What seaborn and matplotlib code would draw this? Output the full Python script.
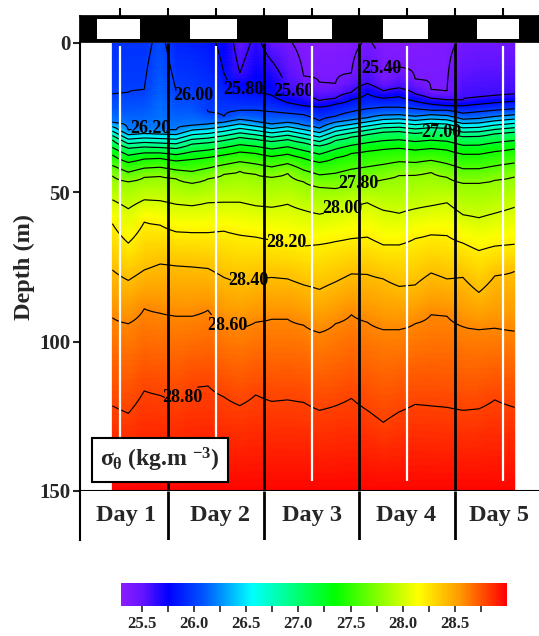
import numpy as np
import matplotlib
matplotlib.use("Agg")
import matplotlib.pyplot as plt
import seaborn as sns
from matplotlib.colors import LinearSegmentedColormap, Normalize
from matplotlib.cm import ScalarMappable
from matplotlib.patches import Rectangle

nan = np.nan

# time of each cast (hours from start of day 1) and sigma-theta at the surface
hours = [10, 14, 18, 22, 26, 30, 34, 38, 42, 46, 50, 54, 58, 62, 66, 70, 74,
         78, 82, 86, 90, 94, 98, 102, 106, 111]
surface_sigma = [25.95, 25.95, 25.95, 26.05, 25.9, 25.88, 25.85, 25.75, 25.5, 25.65,
                 25.5, 25.42, 25.35, 25.33, 25.33, 25.36, 25.42, 25.35, 25.33, 25.35,
                 25.36, 25.37, 25.42, 25.45, 25.45, 25.45]
bottom_sigma = 28.98

# depth (m) of each isopycnal at each cast, read off the section (nan = not present)
d254 = [nan, nan, nan, nan, nan, nan, nan, nan, nan, nan, nan, nan, 11, 13.3, 13.5, 10,
        nan, 12, 8, 12, 15.7, 16, nan, nan, nan, nan]
d256 = [nan, nan, nan, nan, nan, nan, nan, nan, 10, nan, 6, 16, 17.5, 19.4, 18.5, 16.5,
        13.5, 16, 15, 17, 18.5, 19, 19, 18, 17.5, 17]
d258 = [nan, nan, nan, nan, nan, nan, nan, 10, 15.5, 16.5, 17.5, 20, 21, 21.5, 20.5, 19,
        17, 18.5, 18, 19.5, 20.5, 21, 21, 20.5, 20, 19.5]
d260 = [17, 16.5, 15.5, nan, 16, 17.5, 23, 24.5, 22.5, 22.5, 23, 23.5, 24, 26, 24.5, 23,
        22, 21.5, 21.5, 22, 22.5, 22.5, 23.5, 23, 22.5, 22]
d262 = [26.5, 29.2, 28.8, 29.0, 29.1, 27.6, 27.2, 26.5, 25.6, 26.4, 27.2, 26.6, 27.5, 28.5,
        26.5, 25.8, 25.0, 24.2, 24.0, 24.5, 24.0, 24.3, 25.5, 25.3, 24.6, 24.0]
d270 = [32.5, 35.2, 34.8, 35.0, 35.3, 33.8, 33.4, 32.6, 31.6, 32.2, 33.0, 32.3, 33.4, 34.5,
        32.6, 31.5, 30.6, 29.8, 29.6, 30.2, 29.8, 30.0, 31.3, 31.2, 30.4, 29.8]
d274 = [37.5, 40.0, 38.8, 38.6, 39.5, 39.0, 38.3, 37.5, 36.5, 37.0, 38.0, 37.2, 38.6, 40.0,
        38.5, 37.0, 36.2, 35.6, 35.2, 35.8, 35.3, 35.8, 37.2, 37.2, 36.3, 35.5]
d278 = [44.5, 46.5, 45.0, 44.6, 45.5, 47.0, 45.5, 44.0, 43.0, 44.0, 45.0, 43.6, 46.5, 48.3,
        48.7, 47.5, 46.7, 45.7, 44.3, 44.2, 43.3, 45.0, 47.0, 47.0, 46.0, 44.8]
d280 = [52.5, 55.5, 52.5, 52.8, 54.0, 54.5, 53.5, 53.3, 53.3, 54.5, 55.0, 54.0, 56.0, 57.3,
        56.0, 54.5, 53.5, 56.0, 57.0, 55.5, 54.5, 53.5, 57.5, 58.5, 57.0, 55.0]
d282 = [60.5, 67.0, 60.0, 61.0, 63.2, 63.5, 63.5, 63.0, 64.3, 65.0, 66.0, 67.0, 68.0, 67.5,
        66.5, 65.5, 65.0, 67.6, 67.6, 65.5, 64.2, 64.5, 67.0, 69.5, 68.0, 67.4]
d284 = [76.0, 79.5, 76.0, 74.0, 74.6, 75.0, 75.5, 78.5, 80.5, 79.0, 78.5, 79.0, 81.0, 82.5,
        80.0, 77.3, 77.5, 79.0, 81.5, 81.0, 77.0, 79.0, 78.5, 83.5, 78.0, 76.5]
d286 = [92.0, 94.0, 89.0, 90.5, 91.5, 91.5, 89.5, 94.0, 95.5, 93.5, 92.5, 92.5, 94.5, 97.0,
        94.0, 91.0, 93.5, 96.0, 96.0, 94.0, 91.0, 91.5, 95.0, 96.0, 95.5, 96.5]
d288 = [121.5, 124.0, 116.5, 118.0, 120.0, 115.4, 114.8, 118.5, 121.4, 117.8, 120.0, 119.5,
        120.3, 123.0, 121.5, 119.0, 123.0, 127.0, 123.5, 121.0, 121.5, 122.0, 123.0, 122.5,
        119.5, 122.0]

iso_levels = [25.4, 25.6, 25.8, 26.0, 26.2, 27.0, 27.4, 27.8, 28.0, 28.2, 28.4, 28.6, 28.8]
iso_depths = [d254, d256, d258, d260, d262, d270, d274, d278, d280, d282, d284, d286, d288]

contour_levels = np.round(np.arange(25.4, 28.81, 0.2), 2)
# where the contour labels sit (hours, depth)
label_spots = [(76.2, 9), (55.4, 16.8), (42.8, 15.7), (29.5, 21.8), (19.5, 28.1),
               (92.5, 30.1), (71.7, 47.2), (67.7, 55.9), (53.8, 66), (44, 78),
               (38.5, 96.6), (28.5, 121)]

noon = [12, 36, 60, 84, 108]
midnight = [24, 48, 72, 96]
daylight = [(6.2, 16.9), (29.5, 41.4), (54.0, 65.2), (77.9, 89.3), (101.5, 112.1)]
day_names = ["Day 1", "Day 2", "Day 3", "Day 4", "Day 5"]
day_label_at = [13.5, 37, 60, 83.7, 107]
cbar_ticks = [25.5, 26.0, 26.5, 27.0, 27.5, 28.0, 28.5]
cbar_minor = [25.75, 26.25, 26.75, 27.25, 27.75, 28.25, 28.75]

# build the section from the isopycnal depths
depth = np.linspace(0, 150, 301)
field = np.empty((len(depth), len(hours)))
for j in range(len(hours)):
    zs, vs = [0.0], [surface_sigma[j]]
    for lev, arr in zip(iso_levels, iso_depths):
        if not np.isnan(arr[j]):
            zs.append(arr[j])
            vs.append(lev)
    zs.append(150.0)
    vs.append(bottom_sigma)
    field[:, j] = np.interp(depth, zs, vs)

sns.set_theme(style="white")
plt.rcParams["font.family"] = ["Liberation Serif", "DejaVu Serif"]
plt.rcParams["font.weight"] = "bold"
plt.rcParams["mathtext.fontset"] = "custom"
plt.rcParams["mathtext.rm"] = "Liberation Serif:bold"
plt.rcParams["mathtext.it"] = "Liberation Serif:bold"
plt.rcParams["mathtext.bf"] = "Liberation Serif:bold"

vmin, vmax = 25.3, 29.0
anchors = [(25.3, "#8a1cff"), (25.5, "#6414ff"), (25.75, "#0000ff"), (26.1, "#0058ff"),
           (26.55, "#00ffff"), (27.35, "#00ff00"), (28.15, "#ffff00"), (28.55, "#ff9a00"),
           (29.0, "#ff0000")]
cmap = LinearSegmentedColormap.from_list(
    "sigma", [((v - vmin) / (vmax - vmin), c) for v, c in anchors])
norm = Normalize(vmin, vmax)

xlim = (1.9, 117.1)
fig = plt.figure(figsize=(5.39, 6.36), dpi=100)

ax = fig.add_axes([0.1486, 0.2280, 0.8514, 0.7044])
ax.pcolormesh(hours, depth, field, cmap=cmap, norm=norm, shading="gouraud")
cs = ax.contour(hours, depth, field, levels=contour_levels, colors="black", linewidths=0.85)
texts = ax.clabel(cs, manual=label_spots, fmt="%.2f", fontsize=13, inline=True,
                  inline_spacing=1)
for t in texts:
    t.set_fontweight("bold")
    t.set_rotation(0)
ax.vlines(noon, 1, 146.5, colors="white", linewidth=1.6, zorder=4)
ax.vlines(midnight, 0, 150, colors="black", linewidth=2.0, zorder=5)
ax.set_xlim(*xlim)
ax.set_ylim(150, 0)
ax.set_xticks([])
ax.set_yticks([0, 50, 100, 150])
ax.tick_params(axis="y", left=True, direction="out", length=5, width=1.5,
               labelsize=15, pad=2)
ax.set_ylabel("Depth (m)", fontsize=17.5, fontweight="bold", labelpad=3)
sns.despine(ax=ax, top=True, right=True)
for s in ["left", "bottom"]:
    ax.spines[s].set_linewidth(1.5)
    ax.spines[s].set_color("black")

# day/night bar on top
bar = fig.add_axes([0.1486, 0.934, 0.8514, 0.0409])
bar.set_facecolor("black")
for a, b in daylight:
    bar.add_patch(Rectangle((a, 0.13), b - a, 0.74, facecolor="white", edgecolor="none"))
bar.set_xlim(*xlim)
bar.set_ylim(0, 1)
bar.set_yticks([])
bar.xaxis.tick_top()
bar.set_xticks(sorted(noon + midnight))
bar.set_xticklabels([])
bar.tick_params(axis="x", top=True, bottom=False, direction="out", length=5.5, width=1.5,
                color="black")
for s in bar.spines.values():
    s.set_color("black")

# day labels under the section
lab = fig.add_axes([0.1486, 0.151, 0.8514, 0.0771])
lab.set_xlim(*xlim)
lab.set_ylim(0, 1)
lab.vlines(midnight, 0, 1, colors="black", linewidth=2.0)
for name, x in zip(day_names, day_label_at):
    lab.text(x, 0.5, name, ha="center", va="center", fontsize=17.5, fontweight="bold")
lab.set_xticks([])
lab.set_yticks([])
sns.despine(ax=lab, top=True, right=True, bottom=True)
lab.spines["left"].set_linewidth(1.5)
lab.spines["left"].set_color("black")

fig.text(0.2968, 0.2767, r"$\sigma_{\theta}$ (kg.m $^{-3}$)", ha="center", va="center",
         fontsize=17, fontweight="bold",
         bbox=dict(boxstyle="square,pad=0.35", facecolor="white", edgecolor="black", linewidth=1.5))

cax = fig.add_axes([0.2245, 0.0472, 0.7161, 0.0362])
cb = fig.colorbar(ScalarMappable(norm=norm, cmap=cmap), cax=cax, orientation="horizontal")
cb.outline.set_visible(False)
cb.set_ticks(cbar_ticks)
cb.ax.set_xticks(cbar_minor, minor=True)
cb.ax.set_xticklabels([f"{v:.1f}" for v in cbar_ticks], fontsize=12, fontweight="bold")
cb.ax.tick_params(axis="x", which="both", bottom=True, direction="out", length=4, width=1.2, pad=3)

fig.savefig("out.png", dpi=100)
